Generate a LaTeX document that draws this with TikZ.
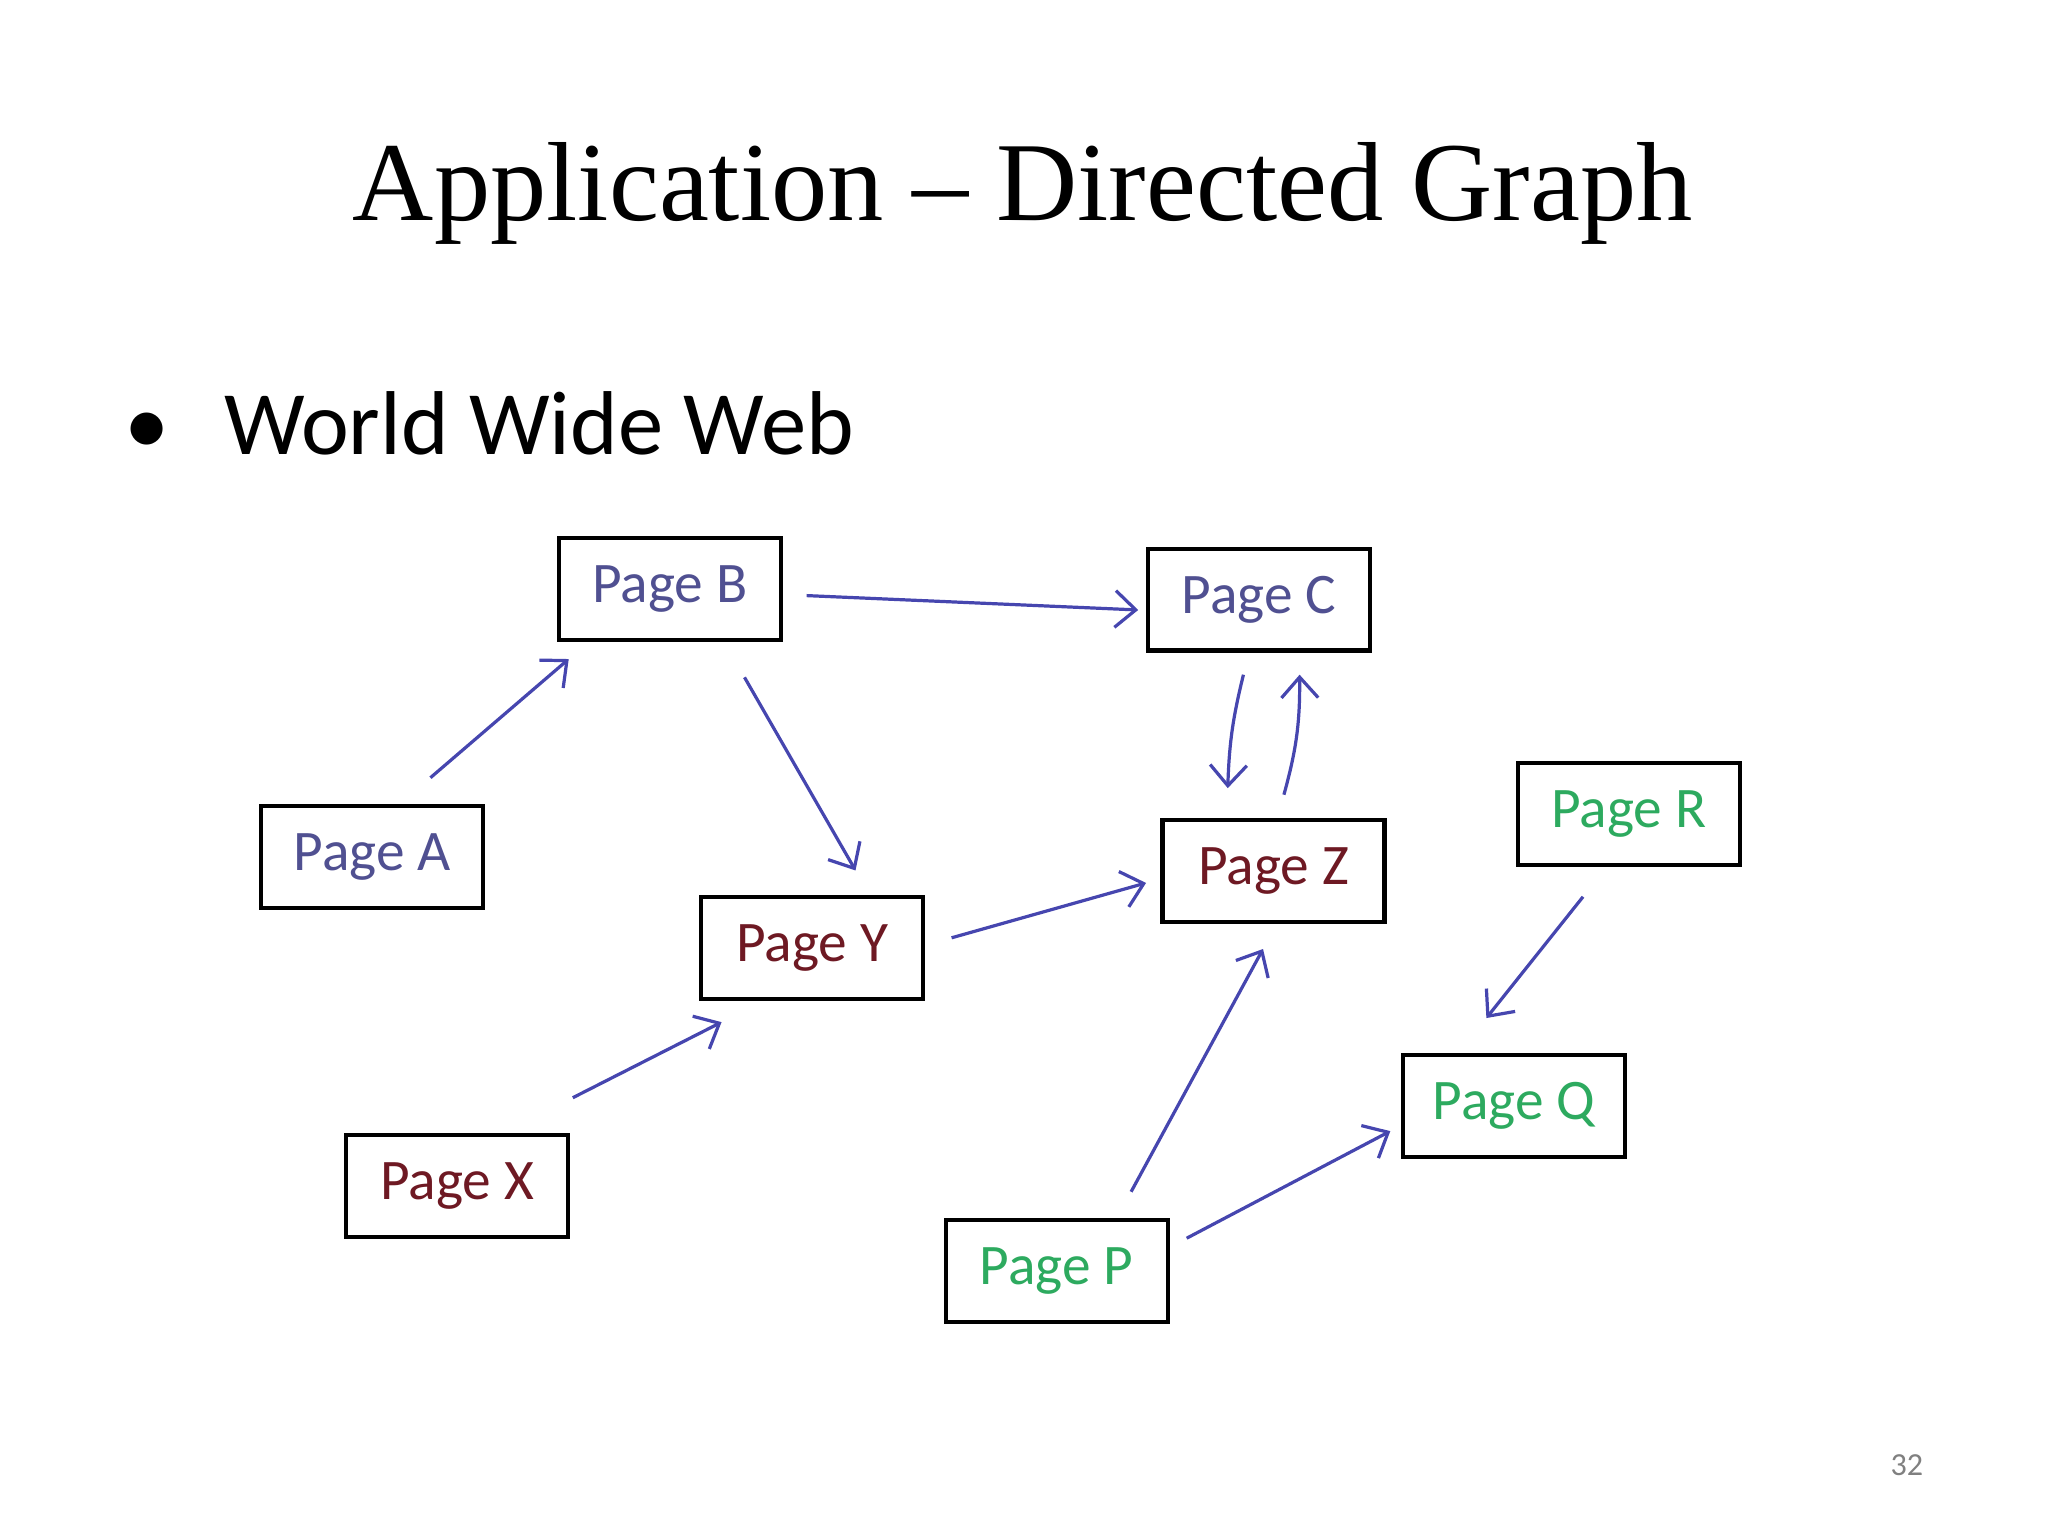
\documentclass[tikz,border=0pt]{standalone}
\usepackage{fontspec}
\setmainfont{Carlito}
\newfontfamily\titlefont{Liberation Serif}
\usetikzlibrary{arrows.meta}
\definecolor{pblue}{RGB}{80,80,145}
\definecolor{pred}{RGB}{110,25,35}
\definecolor{pgreen}{RGB}{45,170,95}
\definecolor{arr}{RGB}{70,70,175}
\tikzset{
 page/.style={draw=black,line width=1.8pt,minimum width=3.4cm,minimum height=1.56cm,inner sep=0pt,font=\fontsize{25}{28}\selectfont},
 link/.style={draw=arr,line width=1.4pt,-{Straight Barb[length=9pt,width=16pt,line width=1.4pt]}}
}
\newcommand{\lnk}[4]{\draw[link] ([shift={#2}]#1) -- ([shift={#4}]#3);}
\begin{document}
\begin{tikzpicture}[x=0.02cm,y=-0.02cm]
\useasboundingbox (0,0) rectangle (1568,1176);
\node (title) at (783,148) {\titlefont\fontsize{49}{56}\selectfont Application \textendash{} Directed Graph};
\node[anchor=base west,inner sep=0pt] (bullet) at (95,348) {\fontsize{39.5}{46}\selectfont •\hspace{0.6em}World Wide Web};
\node[text=gray] (num) at (1460,1122) {\fontsize{14}{16}\selectfont 32};
\node[page,text=pblue] (B) at (513,451) {Page B};
\node[page,text=pblue] (C) at (964,459) {Page C};
\node[page,text=pblue] (A) at (285,656) {Page A};
\node[page,text=pred] (Y) at (622,726) {Page Y};
\node[page,text=pred] (Z) at (975,667) {Page Z};
\node[page,text=pgreen] (R) at (1247,623) {Page R};
\node[page,text=pgreen] (Q) at (1159,847) {Page Q};
\node[page,text=pred] (X) at (350,908) {Page X};
\node[page,text=pgreen] (P) at (809,973) {Page P};
\lnk{A.north east}{(-42,-20)}{B.south west}{(9,13)}
\lnk{B.east}{(18,5)}{C.west}{(-6,8)}
\lnk{B.south}{(57,27)}{Y.north}{(33,-19)}
\draw[link] ([shift={(-12,17)}]C.south) to[bend right=6] ([shift={(-35,-23)}]Z.north);
\draw[link] ([shift={(8,-18)}]Z.north) to[bend right=8] ([shift={(31,17)}]C.south);
\lnk{Y.east}{(20,-8)}{Z.west}{(-11,9)}
\lnk{X.north east}{(2,-27)}{Y.south west}{(17,16)}
\lnk{P.north}{(57,-20)}{Z.south}{(-8,19)}
\lnk{P.east}{(13,-25)}{Q.west}{(-8,19)}
\lnk{R.south}{(-35,23)}{Q.north}{(-21,-27)}
\end{tikzpicture}
\end{document}
